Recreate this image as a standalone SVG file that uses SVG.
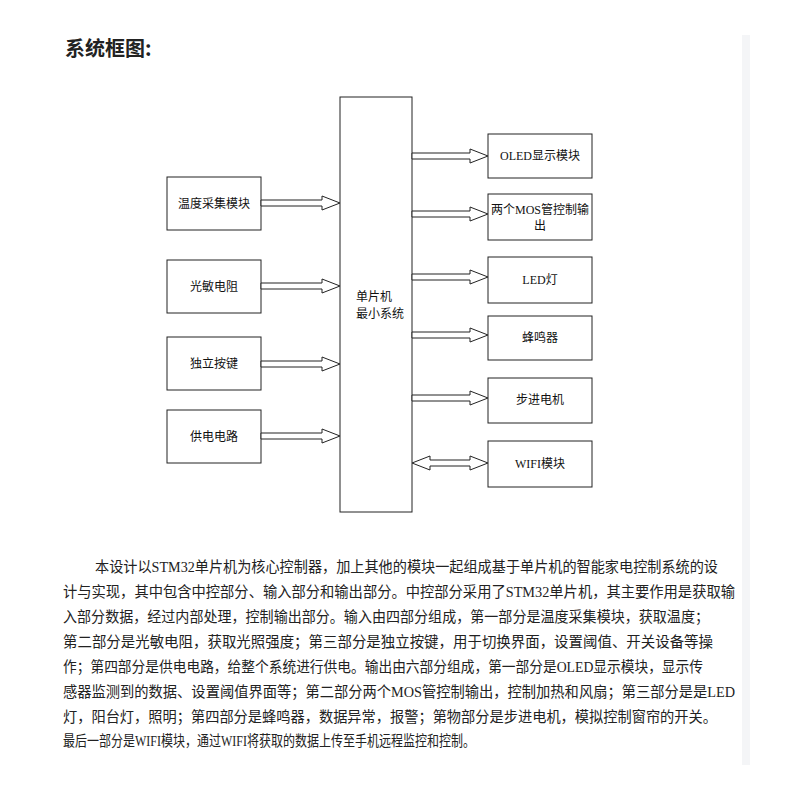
<svg xmlns="http://www.w3.org/2000/svg" width="800" height="800" viewBox="0 0 800 800">
<style>
.b{fill:#fff;stroke:#222;stroke-width:1}
.t{font-family:"Liberation Serif","Noto Sans CJK SC",serif;font-size:12px;fill:#111;text-anchor:middle}
.a{fill:#fff;stroke:#222;stroke-width:1}
.p{font-family:"Liberation Serif","Noto Sans CJK SC",serif;font-size:15px;fill:#222}
</style>
<rect width="800" height="800" fill="#fff"/>
<rect x="742" y="35" width="8" height="730" fill="#f4f5f7"/>
<text x="65" y="56" style="font-family:'Noto Sans CJK SC',sans-serif;font-size:20px;font-weight:bold;fill:#222">系统框图:</text>
<g id="main"><rect class="b" x="340" y="97" width="72" height="415"/><text class="t" x="376" y="301" text-anchor="start" style="text-anchor:start" dx="-20">单片机</text><text class="t" x="356" y="318" style="text-anchor:start">最小系统</text></g>
<g id="n1"><rect class="b" x="167" y="177" width="94" height="53"/><text class="t" x="214" y="208">温度采集模块</text></g>
<g id="n2"><rect class="b" x="167" y="260" width="94" height="53"/><text class="t" x="214" y="291">光敏电阻</text></g>
<g id="n3"><rect class="b" x="167" y="337" width="94" height="53"/><text class="t" x="214" y="368">独立按键</text></g>
<g id="n4"><rect class="b" x="167" y="410" width="94" height="53"/><text class="t" x="214" y="441">供电电路</text></g>
<g id="r1"><rect class="b" x="488" y="134" width="104" height="44"/><text class="t" x="540" y="160">OLED显示模块</text></g>
<g id="r2"><rect class="b" x="488" y="194" width="104" height="46"/><text class="t" x="540" y="214">两个MOS管控制输</text><text class="t" x="540" y="230">出</text></g>
<g id="r3"><rect class="b" x="488" y="257" width="104" height="46"/><text class="t" x="540" y="284">LED灯</text></g>
<g id="r4"><rect class="b" x="488" y="316" width="104" height="44"/><text class="t" x="540" y="342">蜂鸣器</text></g>
<g id="r5"><rect class="b" x="488" y="378" width="104" height="45"/><text class="t" x="540" y="404">步进电机</text></g>
<g id="r6"><rect class="b" x="488" y="441" width="104" height="46"/><text class="t" x="540" y="468">WIFI模块</text></g>
<g id="connectors">
<path class="a" d="M261,200H322V196L340,203L322,210V206H261Z"/>
<path class="a" d="M261,283H322V279L340,286L322,293V289H261Z"/>
<path class="a" d="M261,361H322V357L340,364L322,371V367H261Z"/>
<path class="a" d="M261,433H322V429L340,436L322,443V439H261Z"/>
<path class="a" d="M412,153H470V149L488,156L470,163V159H412Z"/>
<path class="a" d="M412,211H470V207L488,214L470,221V217H412Z"/>
<path class="a" d="M412,274H470V270L488,277L470,284V280H412Z"/>
<path class="a" d="M412,332H470V328L488,335L470,342V338H412Z"/>
<path class="a" d="M412,395H470V391L488,398L470,405V401H412Z"/>
<path class="a" d="M412,463L430,456V460H470V456L488,463L470,470V466H430V470Z"/>
</g>
<g class="p">
<text x="95" y="572" textLength="623" lengthAdjust="spacingAndGlyphs">本设计以STM32单片机为核心控制器，加上其他的模块一起组成基于单片机的智能家电控制系统的设</text>
<text x="63" y="597" textLength="672" lengthAdjust="spacingAndGlyphs">计与实现，其中包含中控部分、输入部分和输出部分。中控部分采用了STM32单片机，其主要作用是获取输</text>
<text x="63" y="622" textLength="646" lengthAdjust="spacingAndGlyphs">入部分数据，经过内部处理，控制输出部分。输入由四部分组成，第一部分是温度采集模块，获取温度；</text>
<text x="63" y="647" textLength="650" lengthAdjust="spacingAndGlyphs">第二部分是光敏电阻，获取光照强度；第三部分是独立按键，用于切换界面，设置阈值、开关设备等操</text>
<text x="63" y="672" textLength="640" lengthAdjust="spacingAndGlyphs">作；第四部分是供电电路，给整个系统进行供电。输出由六部分组成，第一部分是OLED显示模块，显示传</text>
<text x="63" y="697" textLength="672" lengthAdjust="spacingAndGlyphs">感器监测到的数据、设置阈值界面等；第二部分两个MOS管控制输出，控制加热和风扇；第三部分是是LED</text>
<text x="63" y="722" textLength="654" lengthAdjust="spacingAndGlyphs">灯，阳台灯，照明；第四部分是蜂鸣器，数据异常，报警；第物部分是步进电机，模拟控制窗帘的开关。</text>
<text x="63" y="746" textLength="412" lengthAdjust="spacingAndGlyphs">最后一部分是WIFI模块，通过WIFI将获取的数据上传至手机远程监控和控制。</text>
</g>
</svg>
